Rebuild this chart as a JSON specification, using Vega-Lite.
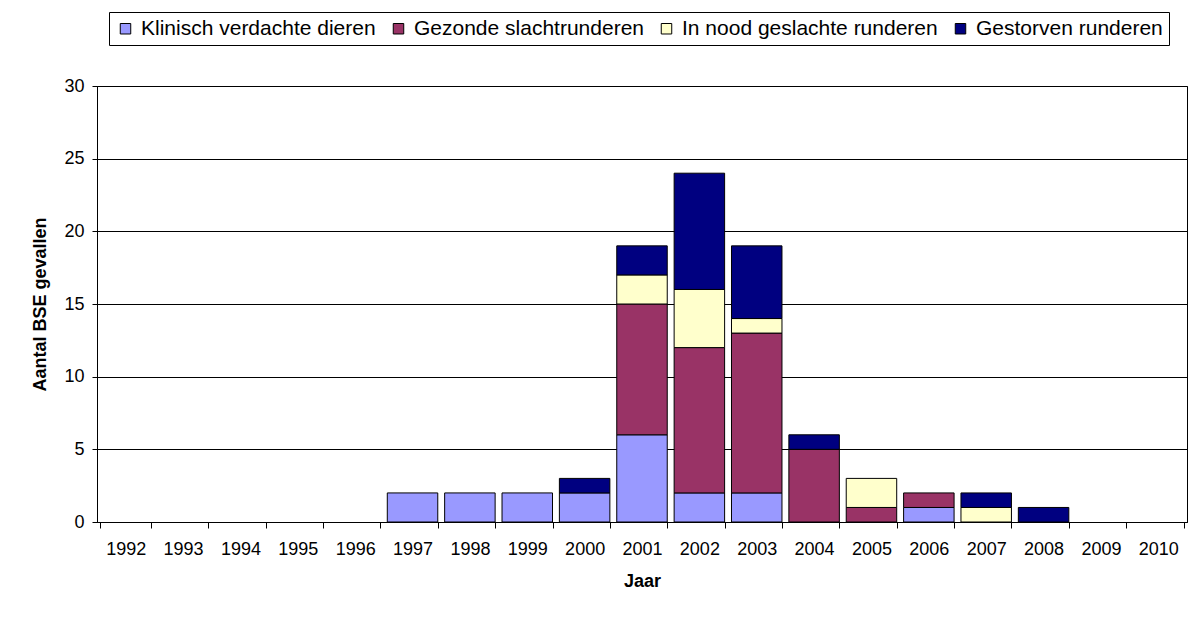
{
  "$schema": "https://vega.github.io/schema/vega-lite/v6.json",
  "width": 1090,
  "height": 436,
  "autosize": {"type": "none"},
  "padding": {"left": 97, "top": 86, "right": 14, "bottom": 95},
  "background": "white",
  "config": {
    "font": "Liberation Sans",
    "view": {"stroke": "black", "strokeWidth": 1}
  },
  "data": {
    "values": [
      {"jaar": "1997", "categorie": "Klinisch verdachte dieren", "aantal": 2},
      {"jaar": "1998", "categorie": "Klinisch verdachte dieren", "aantal": 2},
      {"jaar": "1999", "categorie": "Klinisch verdachte dieren", "aantal": 2},
      {"jaar": "2000", "categorie": "Klinisch verdachte dieren", "aantal": 2},
      {"jaar": "2000", "categorie": "Gestorven runderen", "aantal": 1},
      {"jaar": "2001", "categorie": "Klinisch verdachte dieren", "aantal": 6},
      {"jaar": "2001", "categorie": "Gezonde slachtrunderen", "aantal": 9},
      {"jaar": "2001", "categorie": "In nood geslachte runderen", "aantal": 2},
      {"jaar": "2001", "categorie": "Gestorven runderen", "aantal": 2},
      {"jaar": "2002", "categorie": "Klinisch verdachte dieren", "aantal": 2},
      {"jaar": "2002", "categorie": "Gezonde slachtrunderen", "aantal": 10},
      {"jaar": "2002", "categorie": "In nood geslachte runderen", "aantal": 4},
      {"jaar": "2002", "categorie": "Gestorven runderen", "aantal": 8},
      {"jaar": "2003", "categorie": "Klinisch verdachte dieren", "aantal": 2},
      {"jaar": "2003", "categorie": "Gezonde slachtrunderen", "aantal": 11},
      {"jaar": "2003", "categorie": "In nood geslachte runderen", "aantal": 1},
      {"jaar": "2003", "categorie": "Gestorven runderen", "aantal": 5},
      {"jaar": "2004", "categorie": "Gezonde slachtrunderen", "aantal": 5},
      {"jaar": "2004", "categorie": "Gestorven runderen", "aantal": 1},
      {"jaar": "2005", "categorie": "Gezonde slachtrunderen", "aantal": 1},
      {"jaar": "2005", "categorie": "In nood geslachte runderen", "aantal": 2},
      {"jaar": "2006", "categorie": "Klinisch verdachte dieren", "aantal": 1},
      {"jaar": "2006", "categorie": "Gezonde slachtrunderen", "aantal": 1},
      {"jaar": "2007", "categorie": "In nood geslachte runderen", "aantal": 1},
      {"jaar": "2007", "categorie": "Gestorven runderen", "aantal": 1},
      {"jaar": "2008", "categorie": "Gestorven runderen", "aantal": 1}
    ]
  },
  "transform": [
    {"calculate": "indexof(['Klinisch verdachte dieren','Gezonde slachtrunderen','In nood geslachte runderen','Gestorven runderen'], datum.categorie)", "as": "volgorde"}
  ],
  "mark": {"type": "bar", "stroke": "black", "strokeWidth": 1},
  "encoding": {
    "x": {
      "field": "jaar",
      "type": "ordinal",
      "scale": {
        "domain": ["1992","1993","1994","1995","1996","1997","1998","1999","2000","2001","2002","2003","2004","2005","2006","2007","2008","2009","2010"],
        "paddingInner": 0.12,
        "paddingOuter": 0.06
      },
      "axis": {
        "title": "Jaar",
        "labelAngle": 0,
        "tickBand": "extent",
        "domainColor": "black",
        "tickColor": "black",
        "tickSize": 6,
        "labelFontSize": 18,
        "labelColor": "black",
        "labelPadding": 12,
        "titleFontSize": 18,
        "titleFontWeight": "bold",
        "titleColor": "black",
        "titlePadding": 14
      }
    },
    "y": {
      "field": "aantal",
      "type": "quantitative",
      "stack": "zero",
      "scale": {"domain": [0, 30], "nice": false},
      "axis": {
        "title": "Aantal BSE gevallen",
        "values": [0, 5, 10, 15, 20, 25, 30],
        "grid": true,
        "gridColor": "black",
        "gridOpacity": 1,
        "gridWidth": 1,
        "domainColor": "black",
        "tickColor": "black",
        "tickSize": 5,
        "labelFontSize": 18,
        "labelColor": "black",
        "labelPadding": 8,
        "titleFontSize": 18,
        "titleFontWeight": "bold",
        "titleColor": "black",
        "titlePadding": 14
      }
    },
    "color": {
      "field": "categorie",
      "type": "nominal",
      "sort": ["Klinisch verdachte dieren","Gezonde slachtrunderen","In nood geslachte runderen","Gestorven runderen"],
      "scale": {
        "domain": ["Klinisch verdachte dieren","Gezonde slachtrunderen","In nood geslachte runderen","Gestorven runderen"],
        "range": ["#9999FF","#993366","#FFFFCC","#000080"]
      },
      "legend": {
        "title": null,
        "orient": "none",
        "direction": "horizontal",
        "columns": 4,
        "legendX": 12,
        "legendY": -74,
        "symbolType": "square",
        "symbolSize": 110,
        "symbolStrokeColor": "black",
        "symbolStrokeWidth": 1,
        "symbolOpacity": 1,
        "labelFontSize": 21,
        "labelLimit": 0,
        "labelColor": "black",
        "labelOffset": 5,
        "columnPadding": 12,
        "padding": 6,
        "strokeColor": "black",
        "fillColor": "white"
      }
    },
    "order": {"field": "volgorde", "type": "quantitative"}
  }
}
